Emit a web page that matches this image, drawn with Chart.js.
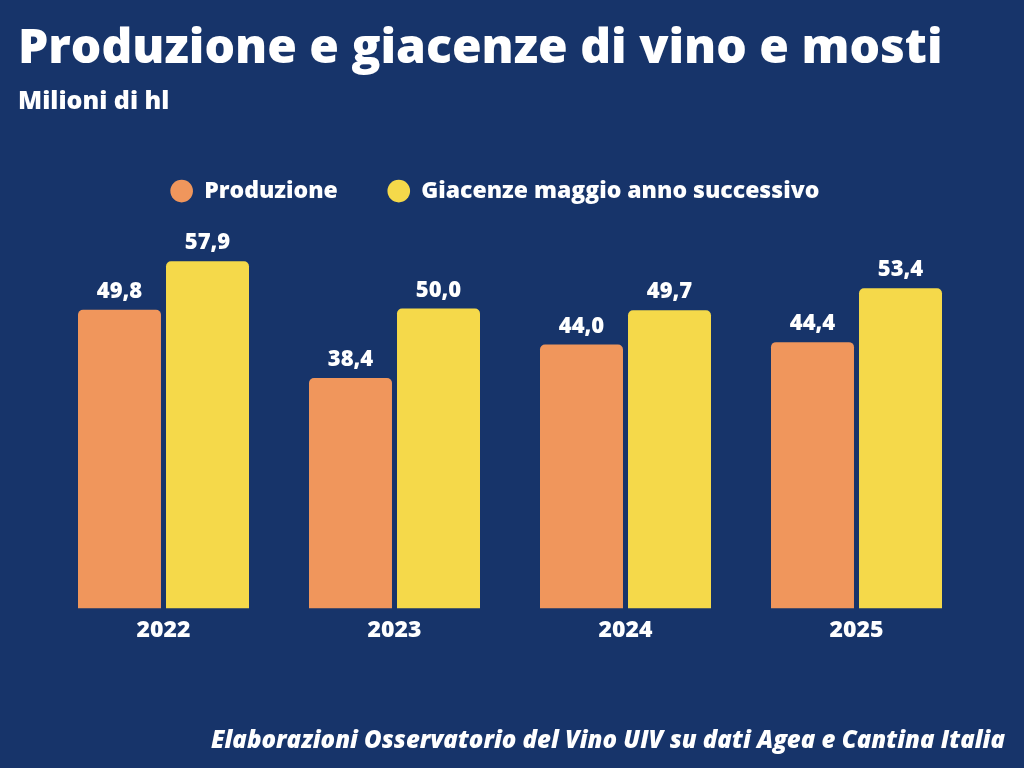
<!DOCTYPE html>
<html>
<head>
<meta charset="utf-8">
<script src="https://cdn.jsdelivr.net/npm/chart.js@4"></script>
<style>
  html, body { margin: 0; padding: 0; background: #17346a; }
  #wrap { position: relative; width: 1024px; height: 768px; }
  #source {
    position: absolute; right: 19px; top: 722px;
    font: italic 800 24px "Open Sans", sans-serif; color: #fff;
  }
</style>
</head>
<body>
<div id="wrap">
  <canvas id="chart" width="1024" height="768"></canvas>
  <div id="source">Elaborazioni Osservatorio del Vino UIV su dati Agea e Cantina Italia</div>
</div>
<script>
const years = ["2022", "2023", "2024", "2025"];
const produzione = [49.8, 38.4, 44.0, 44.4];
const giacenze = [57.9, 50.0, 49.7, 53.4];

const fontFamily = '"Open Sans", sans-serif';
const fmt = (v) => v.toFixed(1).replace(".", ",");

// draws the value above each bar
const valueLabels = {
  id: "valueLabels",
  afterDatasetsDraw(chart) {
    const ctx = chart.ctx;
    ctx.save();
    ctx.fillStyle = "#fff";
    ctx.font = "800 22px " + fontFamily;
    ctx.textAlign = "center";
    ctx.textBaseline = "alphabetic";
    chart.data.datasets.forEach((ds, i) => {
      chart.getDatasetMeta(i).data.forEach((bar, j) => {
        ctx.fillText(fmt(ds.data[j]), bar.x, bar.y - 12);
      });
    });
    ctx.restore();
  },
};

new Chart(document.getElementById("chart"), {
  type: "bar",
  data: {
    labels: years,
    datasets: [
      {
        label: "Produzione",
        data: produzione,
        backgroundColor: "#f0965c",
        borderRadius: { topLeft: 5, topRight: 5 },
        borderSkipped: "bottom",
      },
      {
        label: "Giacenze maggio anno successivo",
        data: giacenze,
        backgroundColor: "#f5d94a",
        borderRadius: { topLeft: 5, topRight: 5 },
        borderSkipped: "bottom",
      },
    ],
  },
  options: {
    responsive: false,
    animation: false,
    layout: { padding: { left: 18, right: 52, top: 21, bottom: 124 } },
    categoryPercentage: 0.762,
    barPercentage: 0.943,
    scales: {
      x: {
        grid: { display: false },
        border: { display: false },
        ticks: { color: "#fff", font: { family: fontFamily, size: 23, weight: "800" }, padding: 0 },
      },
      y: {
        min: 0,
        max: 66,
        grid: { display: false },
        border: { display: false },
        ticks: { display: false },
        afterFit: (scale) => { scale.width = 30; },
      },
    },
    plugins: {
      title: {
        display: true,
        text: "Produzione e giacenze di vino e mosti",
        align: "start",
        color: "#fff",
        font: { family: fontFamily, size: 48, weight: "800" },
        padding: { top: 0, bottom: 0 },
      },
      subtitle: {
        display: true,
        text: "Milioni di hl",
        align: "start",
        color: "#fff",
        font: { family: fontFamily, size: 25, weight: "800" },
        padding: { top: 8, bottom: 13 },
      },
      legend: {
        labels: {
          color: "#fff",
          font: { family: fontFamily, size: 23, weight: "800" },
          usePointStyle: true,
          pointStyle: "circle",
          boxWidth: 22,
          boxHeight: 16,
          padding: 50,
        },
      },
      tooltip: { enabled: false },
    },
  },
  plugins: [valueLabels],
});
</script>
</body>
</html>
